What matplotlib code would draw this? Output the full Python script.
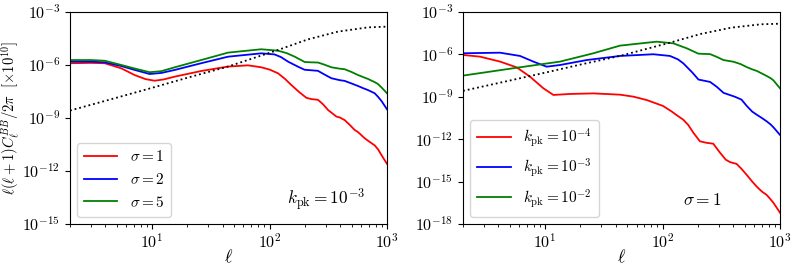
import numpy as np
import matplotlib
matplotlib.use("Agg")
import matplotlib.pyplot as plt
from matplotlib.ticker import FuncFormatter, NullLocator, FixedLocator

plt.rcParams['mathtext.fontset'] = 'cm'
plt.rcParams['font.family'] = ['DejaVu Serif']
plt.rcParams['font.size'] = 11

# ---- data: log10 values ----
ell_dot = [2, 5, 9.2, 20, 44.3, 118, 212, 383, 689, 1000]
log_dot = [-8.58, -7.85, -7.36, -6.72, -6.09, -5.15, -4.55, -4.11, -3.87, -3.83]

# left panel (k_pk = 1e-3)
ell_s1 = [2, 3, 3.95, 5.47, 7.11, 8.8, 10.5, 12.5, 15.6, 26.2, 44.3, 65.6, 85, 100, 118, 135, 153, 180, 206, 227, 258, 285, 315, 371, 396, 436, 480, 531, 567, 646, 700, 785, 840, 895, 1000]
log_s1 = [-5.90, -5.88, -5.90, -6.19, -6.57, -6.80, -6.89, -6.82, -6.66, -6.34, -6.09, -6.02, -6.13, -6.26, -6.47, -6.78, -7.13, -7.55, -7.86, -7.93, -7.97, -8.22, -8.55, -8.92, -8.97, -9.12, -9.38, -9.68, -9.80, -10.15, -10.32, -10.55, -10.78, -11.09, -11.60]

ell_s2 = [2, 3, 3.95, 5.47, 7.11, 9.53, 12, 15.6, 26.2, 44.3, 85, 110, 125, 143.6, 175, 199, 227, 258, 290, 336, 396, 436, 500, 567, 630, 689, 785, 838, 900, 1000]
log_s2 = [-5.81, -5.81, -5.85, -6.06, -6.28, -6.51, -6.45, -6.28, -5.90, -5.53, -5.34, -5.40, -5.55, -5.81, -6.10, -6.27, -6.30, -6.33, -6.52, -6.75, -6.86, -6.90, -7.05, -7.19, -7.32, -7.42, -7.60, -7.80, -8.05, -8.51]

ell_s5 = [2, 3, 3.95, 5.47, 7.11, 9.53, 12, 15.6, 26.2, 44.3, 85, 118, 140, 163.8, 199, 227, 258, 290, 336, 396, 436, 500, 567, 630, 689, 785, 838, 900, 1000]
log_s5 = [-5.72, -5.72, -5.76, -6.00, -6.20, -6.41, -6.35, -6.13, -5.72, -5.30, -5.11, -5.19, -5.33, -5.53, -5.83, -5.85, -5.86, -5.97, -6.13, -6.21, -6.24, -6.40, -6.57, -6.69, -6.79, -6.97, -7.08, -7.28, -7.60]

# right panel (sigma = 1)
ell_k4 = [2, 2.79, 4.13, 5.73, 7.44, 9.66, 11.75, 16.3, 25.8, 43.4, 56.4, 73.3, 101, 120, 131.8, 150, 165.6, 183, 208, 235, 270, 308, 345, 375, 427, 470, 521, 580, 634, 700, 771, 830, 877, 1000]
log_k4 = [-6.04, -6.16, -6.51, -6.92, -7.58, -8.40, -8.87, -8.80, -8.76, -8.85, -8.99, -9.23, -9.65, -10.05, -10.30, -10.62, -11.00, -11.55, -12.15, -12.25, -12.32, -12.95, -13.45, -13.62, -13.75, -14.10, -14.53, -15.00, -15.36, -15.70, -15.95, -16.25, -16.49, -17.20]

ell_k3 = [2, 4.13, 6.11, 7.94, 10.3, 13.4, 22.6, 43.4, 83.4, 115.6, 135, 150, 180, 202, 254, 290, 330, 414, 470, 521, 580, 634, 700, 771, 830, 877, 1000]
log_k3 = [-5.92, -5.88, -6.11, -6.51, -6.87, -6.75, -6.40, -6.11, -5.99, -6.11, -6.35, -6.63, -7.30, -7.78, -7.95, -8.30, -8.72, -9.00, -9.20, -9.65, -10.05, -10.27, -10.50, -10.74, -10.95, -11.15, -11.70]

ell_k2 = [2, 5.36, 13.4, 25.8, 43.4, 89, 123.6, 160.6, 201.8, 253.6, 290, 329.6, 401, 460, 521, 580, 634, 700, 771, 830, 877, 1000]
log_k2 = [-7.50, -6.98, -6.51, -5.92, -5.38, -5.10, -5.22, -5.57, -5.95, -5.98, -6.18, -6.40, -6.52, -6.68, -6.90, -7.06, -7.17, -7.35, -7.53, -7.68, -7.83, -8.40]

x_ticks = [10, 100, 1000]

left_series = [(ell_s1, log_s1, 'red', r'$\sigma=1$'),
               (ell_s2, log_s2, 'blue', r'$\sigma=2$'),
               (ell_s5, log_s5, 'green', r'$\sigma=5$')]
right_series = [(ell_k4, log_k4, 'red', r'$k_{\rm pk}=10^{-4}$'),
                (ell_k3, log_k3, 'blue', r'$k_{\rm pk}=10^{-3}$'),
                (ell_k2, log_k2, 'green', r'$k_{\rm pk}=10^{-2}$')]


def pow_fmt(v, pos):
    if v <= 0:
        return ''
    return r'$10^{%d}$' % int(round(np.log10(v)))


fig = plt.figure(figsize=(7.97, 2.70), dpi=100)
axL = fig.add_axes([0.0878, 0.1704, 0.3978, 0.7852])
axR = fig.add_axes([0.5810, 0.1704, 0.3977, 0.7852])

for ax, series, ylo, note, nx in [(axL, left_series, 1e-15, r'$k_{\rm pk}=10^{-3}$', 0.808),
                                  (axR, right_series, 1e-18, r'$\sigma=1$', 0.754)]:
    for e, lv, c, lab in series:
        ax.plot(e, 10 ** np.array(lv), color=c, lw=1.3, label=lab)
    ax.plot(ell_dot, 10 ** np.array(log_dot), color='black', ls=':', lw=1.3)
    ax.set_xscale('log')
    ax.set_yscale('log')
    ax.set_xlim(2, 1000)
    ax.set_ylim(ylo, 1e-3)
    ax.xaxis.set_major_locator(FixedLocator(x_ticks))
    ax.yaxis.set_major_locator(FixedLocator([10.0 ** p for p in range(int(np.log10(ylo)), -2, 3)]))
    ax.yaxis.set_minor_locator(NullLocator())
    ax.xaxis.set_major_formatter(FuncFormatter(pow_fmt))
    ax.yaxis.set_major_formatter(FuncFormatter(pow_fmt))
    ax.set_xlabel(r'$\ell$', fontsize=13, labelpad=-3)
    ax.tick_params(axis='both', labelsize=11.5)
    ax.legend(loc='lower left', bbox_to_anchor=(0.022, 0.035), borderaxespad=0,
              fontsize=11, handlelength=2.2, borderpad=0.45, labelspacing=0.5,
              handletextpad=0.8)
    ax.text(nx, 0.113, note, transform=ax.transAxes, fontsize=12.5, ha='center', va='center')

axL.set_ylabel(r'$\ell(\ell+1)C_\ell^{BB}/2\pi\ \ [\times10^{10}]$', fontsize=10.5, labelpad=0)

fig.savefig('out.png', dpi=100)
